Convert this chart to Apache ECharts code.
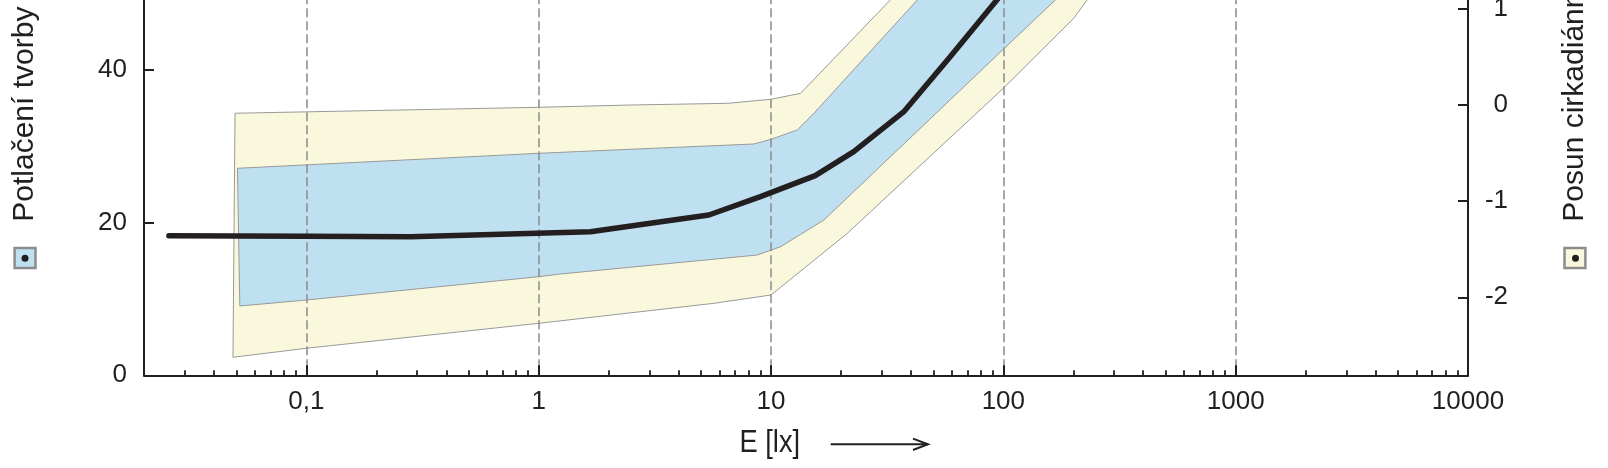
<!DOCTYPE html>
<html>
<head>
<meta charset="utf-8">
<script src="https://cdn.jsdelivr.net/npm/echarts@6/dist/echarts.min.js"></script>
<style>
html,body{margin:0;padding:0;background:#fff;}
#chart{width:1608px;height:468px;}
</style>
</head>
<body>
<div id="chart"></div>
<script>
// ---- data (x = illuminance E in lx, y = suppression in %) ----
var meanLine = [[0.0256,18.29],[0.1,18.2],[0.281,18.16],[1.67,18.81],[3.13,19.99],[5.4,21.0],[9.01,23.4],[15.5,26.15],[22.7,29.3],[37.2,34.5],[58.2,41.5],[100,50.2]];
var yellowUpper = [[0.0493,34.33],[1,35.11],[2.48,35.41],[6.49,35.63],[10,36.16],[13.4,36.94],[32.6,49.17],[40,51.9]];
var yellowLower = [[0.0483,2.36],[0.1,3.54],[1,6.81],[5.68,9.43],[10,10.52],[21.3,18.6],[100,37.6],[201,46.77],[268,52]];
var blueUpper = [[0.0505,27.12],[1,29.08],[2.48,29.61],[8.43,30.3],[10,30.92],[12.97,32.14],[15.3,34.32],[42.6,49.17],[52,52]];
var blueLower = [[0.0517,9.08],[0.1,9.86],[1,12.92],[1.24,13.27],[8.73,15.76],[11,16.85],[16.9,20.35],[100,42.71],[167.5,49.17],[210,52]];
var minorTickValues = [0.03,0.04,0.05,0.06,0.07,0.08,0.09,0.2,0.3,0.4,0.5,0.6,0.7,0.8,0.9,2,3,4,5,6,7,8,9,20,30,40,50,60,70,80,90,200,300,400,500,600,700,800,900,2000,3000,4000,5000,6000,7000,8000,9000];
var rightAxisTicks = [-2,-1,0,1];
var leftTitle = 'Potlačení tvorby melatoninu [%]';
var rightTitle = 'Posun cirkadiánní fáze [h]';
var xTitle = 'E [lx]';

var FONT = "'Liberation Sans', Arial, Helvetica, sans-serif";
var INK = '#231f20';

function polygonOf(upper, lower) {
  return upper.concat(lower.slice().reverse());
}
function bandSeries(upper, lower, fill, z) {
  var poly = polygonOf(upper, lower);
  return {
    type: 'custom',
    xAxisIndex: 0, yAxisIndex: 0,
    z: z,
    silent: true,
    data: poly,
    renderItem: function (params, api) {
      if (params.dataIndex !== 0) return null;
      var pts = poly.map(function (p) { return api.coord(p); });
      return {
        type: 'polygon',
        shape: { points: pts },
        style: { fill: fill, stroke: '#9a9a9a', lineWidth: 1 }
      };
    }
  };
}

var chart = echarts.init(document.getElementById('chart'), null, { renderer: 'canvas' });
chart.setOption({
  animation: false,
  backgroundColor: '#ffffff',
  grid: { left: 144, right: 140, top: -82.7, bottom: 92.7, containLabel: false, outerBoundsMode: 'none' },
  xAxis: [
    {
      type: 'log', logBase: 10, min: 0.02, max: 10000, position: 'bottom', z: 3,
      axisLine: { show: true, onZero: false, lineStyle: { color: INK, width: 2 } },
      axisTick: { show: true, inside: true, length: 10, lineStyle: { color: INK, width: 2 } },
      axisLabel: {
        show: true, showMinLabel: false, margin: 14,
        color: INK, fontSize: 26, fontFamily: FONT,
        formatter: function (v) { return String(v).replace('.', ','); }
      },
      splitLine: { show: true, lineStyle: { color: '#8a8a8a', width: 1.5, type: [9, 4] } },
      minorTick: { show: false }
    },
    {
      type: 'log', logBase: 10, min: 0.02, max: 10000, position: 'bottom', z: 3,
      axisLine: { show: false, onZero: false },
      axisTick: { show: true, inside: true, length: 5, customValues: minorTickValues, lineStyle: { color: INK, width: 1.8 } },
      axisLabel: { show: false },
      splitLine: { show: false }
    }
  ],
  yAxis: [
    {
      type: 'value', min: 0, max: 60, interval: 20, position: 'left', z: 6,
      axisLine: { show: true, onZero: false, lineStyle: { color: INK, width: 2 } },
      axisTick: { show: true, inside: true, length: 10, lineStyle: { color: INK, width: 2 } },
      axisLabel: { margin: 17, color: INK, fontSize: 26, fontFamily: FONT },
      splitLine: { show: false }
    },
    {
      type: 'value', min: -2.8118, max: 1.9526, position: 'right', z: 6,
      axisLine: { show: true, onZero: false, lineStyle: { color: INK, width: 2 } },
      axisTick: { show: true, inside: true, length: 10, customValues: rightAxisTicks, lineStyle: { color: INK, width: 2 } },
      axisLabel: { margin: 40, align: 'right', customValues: rightAxisTicks, color: INK, fontSize: 26, fontFamily: FONT },
      splitLine: { show: false }
    }
  ],
  series: [
    bandSeries(yellowUpper, yellowLower, '#f9f7dc', 1),
    bandSeries(blueUpper, blueLower, '#bfe0f1', 2),
    {
      type: 'line', xAxisIndex: 0, yAxisIndex: 0, z: 5,
      data: meanLine, symbol: 'none', smooth: false, silent: true,
      lineStyle: { color: INK, width: 5.5, cap: 'round', join: 'round' }
    }
  ],
  graphic: [
    { type: 'text', x: 25, y: 221.7, rotation: Math.PI / 2, silent: true,
      style: { text: leftTitle, font: '30px ' + FONT, fill: INK, align: 'left', verticalAlign: 'middle', textAlign: 'left', textVerticalAlign: 'middle' } },
    { type: 'rect', shape: { x: 14.6, y: 248, width: 20.9, height: 20.1 }, silent: true,
      style: { fill: '#bfe0f1', stroke: '#8c8c8c', lineWidth: 2.5 } },
    { type: 'circle', shape: { cx: 25, cy: 258.3, r: 3.5 }, silent: true, style: { fill: INK } },

    { type: 'text', x: 1575, y: 221.7, rotation: Math.PI / 2, silent: true,
      style: { text: rightTitle, font: '30px ' + FONT, fill: INK, align: 'left', verticalAlign: 'middle', textAlign: 'left', textVerticalAlign: 'middle' } },
    { type: 'rect', shape: { x: 1564.5, y: 248, width: 20.9, height: 20.1 }, silent: true,
      style: { fill: '#f9f7dc', stroke: '#8c8c8c', lineWidth: 2.5 } },
    { type: 'circle', shape: { cx: 1575.5, cy: 258.3, r: 3.5 }, silent: true, style: { fill: INK } },

    { type: 'text', x: 739.5, y: 443.5, scaleX: 0.88, silent: true,
      style: { text: xTitle, font: '31px ' + FONT, fill: INK, align: 'left', verticalAlign: 'middle', textAlign: 'left', textVerticalAlign: 'middle' } },
    { type: 'polyline', silent: true, shape: { points: [[830.7, 444.3], [927.5, 444.3]] },
      style: { stroke: INK, lineWidth: 2, fill: null } },
    { type: 'polyline', silent: true, shape: { points: [[913, 438.6], [928, 444.3], [913, 450]] },
      style: { stroke: INK, lineWidth: 2, fill: null } }
  ]
});
</script>
</body>
</html>
